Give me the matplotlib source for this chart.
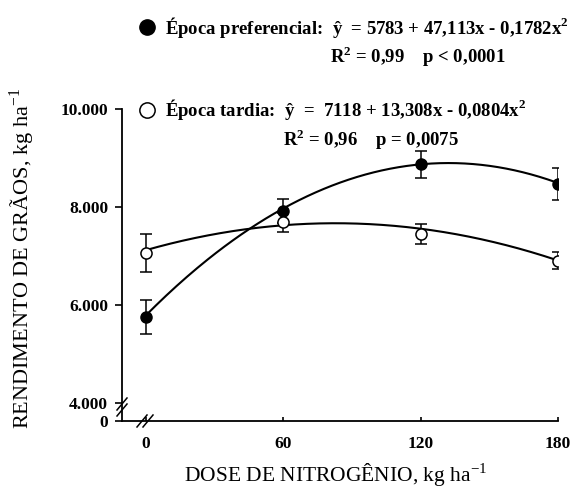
import numpy as np
import matplotlib
matplotlib.use("Agg")
import matplotlib.pyplot as plt
from matplotlib.lines import Line2D

plt.rcParams['font.family'] = ['Liberation Serif', 'DejaVu Serif']
plt.rcParams['mathtext.fontset'] = 'custom'
plt.rcParams['mathtext.rm'] = 'Liberation Serif'
plt.rcParams['mathtext.bf'] = 'Liberation Serif:bold'

# ---- data ----
doses = [0, 60, 120, 180]
pref_mean = [5755, 7925, 8870, 8470]
pref_err = [345, 245, 270, 330]
tard_mean = [7055, 7686, 7455, 6905]
tard_err = [385, 200, 200, 180]
pref_coef = [5783, 47.113, -0.1782]
tard_coef = [7118, 13.308, -0.0804]
ytick_vals = [4000, 6000, 8000, 10000]
ytick_labels = ['4.000', '6.000', '8.000', '10.000']
xtick_labels = ['0', '60', '120', '180']
pref_label = r'Época preferencial:  ŷ  = 5783 + 47,113x - 0,1782x$^\mathbf{2}$'
pref_stats = r'R$^\mathbf{2}$ = 0,99    p < 0,0001'
tard_label = r'Época tardia:  ŷ  =  7118 + 13,308x - 0,0804x$^\mathbf{2}$'
tard_stats = r'R$^\mathbf{2}$ = 0,96    p = 0,0075'

W, H = 575, 488
fig = plt.figure(figsize=(W / 100, H / 100), dpi=100)
L, R, T, B = 122, 558, 109, 421
ax = fig.add_axes([L / W, 1 - B / H, (R - L) / W, (B - T) / H])

ybottom = 3633
ax.set_xlim(-10.3, 180)
ax.set_ylim(ybottom, 10000)

xs = np.linspace(0, 180, 200)
for coef in (pref_coef, tard_coef):
    ax.plot(xs, coef[0] + coef[1] * xs + coef[2] * xs ** 2, color='black', lw=1.5, zorder=2)

ax.errorbar(doses, pref_mean, yerr=pref_err, fmt='o', color='black', ms=8,
            mfc='black', mec='black', ecolor='black', elinewidth=1.1, capsize=4.5,
            capthick=1.1, zorder=3)
ax.errorbar(doses, tard_mean, yerr=tard_err, fmt='o', color='black', ms=8,
            mfc='white', mec='black', mew=1.1, ecolor='black', elinewidth=1.1,
            capsize=4.5, capthick=1.1, zorder=3)

for s in ('top', 'right'):
    ax.spines[s].set_visible(False)
for s in ('left', 'bottom'):
    ax.spines[s].set_linewidth(1.3)

ax.set_yticks([ybottom] + ytick_vals)
ax.set_yticklabels(['0'] + ytick_labels, fontsize=12.5, fontweight='bold')
ax.set_xticks(doses)
ax.set_xticklabels(xtick_labels, fontsize=12.5, fontweight='bold')
ax.tick_params(axis='y', direction='out', length=5, width=1.2, pad=5)
ax.tick_params(axis='x', direction='in', length=3, width=1.2, pad=11)

ax.set_ylabel('RENDIMENTO DE GRÃOS, kg ha$^{-1}$', fontsize=16)
ax.set_xlabel('DOSE DE NITROGÊNIO, kg ha$^{-1}$', fontsize=15.5)
ax.yaxis.set_label_coords(-0.195, 0.52)
ax.xaxis.set_label_coords(0.49, -0.128)

# axis break marks (pixel offsets converted to axes fraction)
aw, ah = R - L, B - T
def brk(cx, cy, ddx, ddy):
    for k in (-1, 1):
        ox, oy = cx + k * ddx, cy + k * ddy
        ax.add_line(Line2D([(ox - 5) / aw, (ox + 5) / aw],
                           [(oy - 6) / ah, (oy + 6) / ah],
                           transform=ax.transAxes, color='black', lw=1.1,
                           clip_on=False))
brk(0, B - 407, 0, 3)        # y-axis break
brk(145 - L, 0, 3, 0)        # x-axis break

# legend text
def fx(px):
    return px / W
def fy(py):
    return 1 - py / H
fs = 13.5
fig.add_artist(Line2D([fx(147)], [fy(27)], transform=fig.transFigure, marker='o',
                      ms=11, mfc='black', mec='black', ls='none'))
fig.text(fx(165), fy(27), pref_label, fontsize=fs, fontweight='bold', va='center')
fig.text(fx(330), fy(57), pref_stats, fontsize=fs, fontweight='bold', va='center')
fig.add_artist(Line2D([fx(147)], [fy(110)], transform=fig.transFigure, marker='o',
                      ms=11, mfc='white', mec='black', mew=1.1, ls='none'))
fig.text(fx(165), fy(110), tard_label, fontsize=fs, fontweight='bold', va='center')
fig.text(fx(283), fy(140), tard_stats, fontsize=fs, fontweight='bold', va='center')

fig.savefig('out.png', dpi=100)
